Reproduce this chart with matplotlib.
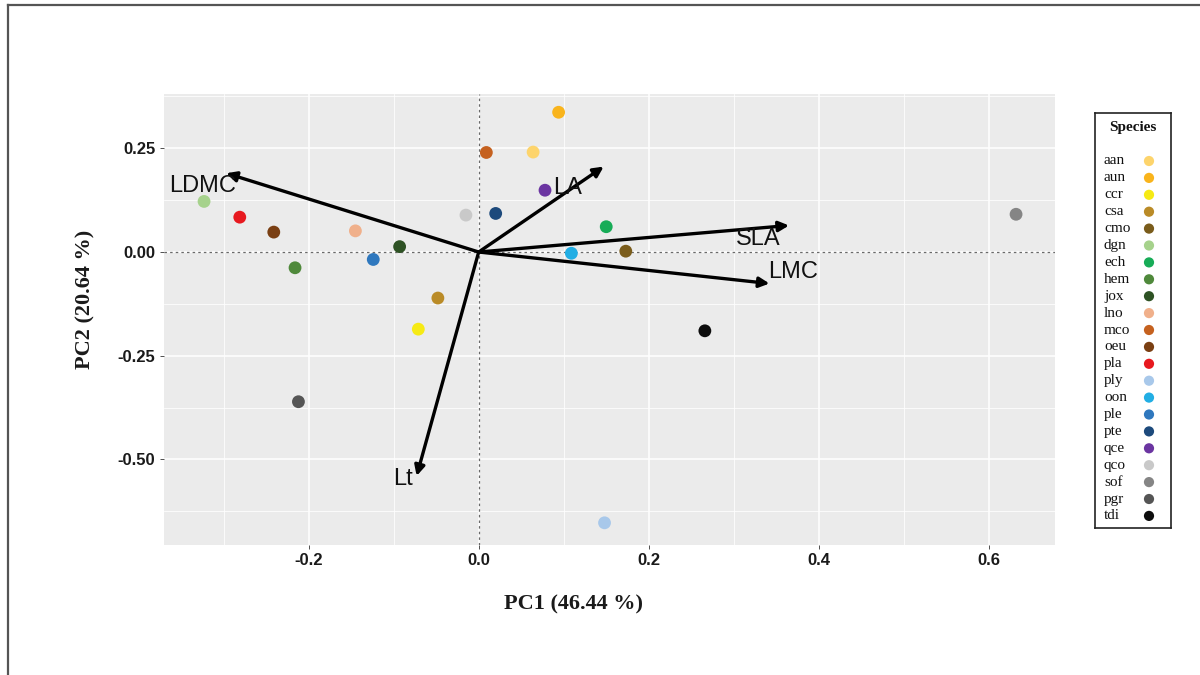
import matplotlib
matplotlib.use("Agg")
import matplotlib.pyplot as plt
from matplotlib.lines import Line2D
from matplotlib.ticker import MultipleLocator, FixedLocator

# PCA scores of species means
species = ["aan", "aun", "ccr", "csa", "cmo", "dgn", "ech", "hem", "jox", "lno", "mco",
           "oeu", "pla", "ply", "oon", "ple", "pte", "qce", "qco", "sof", "pgr", "tdi"]
pc1 = [0.064, 0.094, -0.071, -0.048, 0.173, -0.323, 0.150, -0.216, -0.093, -0.145, 0.009,
       -0.241, -0.281, 0.148, 0.109, -0.124, 0.020, 0.078, -0.015, 0.632, -0.212, 0.266]
pc2 = [0.241, 0.337, -0.186, -0.111, 0.002, 0.122, 0.061, -0.038, 0.013, 0.051, 0.240,
       0.048, 0.084, -0.653, -0.003, -0.018, 0.093, 0.149, 0.089, 0.091, -0.361, -0.190]
colors = ["#FDD46C", "#F9B41C", "#F6EA14", "#BA8B27", "#7A5C1B", "#A6D28C", "#17AC57",
          "#4F893B", "#2E5224", "#F0B08B", "#C5611F", "#7A3F13", "#E7191F", "#A8C8EA",
          "#22AEE4", "#2F78BE", "#1D4A7C", "#6B35A1", "#C9C9C9", "#858585", "#555555",
          "#0D0D0D"]

# Trait loadings (arrow tips) and label anchors
traits = ["LDMC", "LA", "SLA", "LMC", "Lt"]
load1 = [-0.297, 0.147, 0.365, 0.342, -0.073]
load2 = [0.190, 0.206, 0.064, -0.076, -0.540]
lab1 = [-0.325, 0.104, 0.329, 0.370, -0.089]
lab2 = [0.159, 0.154, 0.031, -0.049, -0.547]

x_ticks = [-0.2, 0.0, 0.2, 0.4, 0.6]
y_ticks = [-0.50, -0.25, 0.00, 0.25]

W, H = 1200, 675
fig = plt.figure(figsize=(W / 100, H / 100), dpi=100)
fig.patch.set_facecolor("white")

# outer frame
fig.add_artist(Line2D([8 / W, 8 / W], [0, 1 - 5 / H], color="#555555", lw=1.6,
                      transform=fig.transFigure))
fig.add_artist(Line2D([8 / W, 1], [1 - 5 / H, 1 - 5 / H], color="#555555", lw=1.6,
                      transform=fig.transFigure))

x0, x1, y0, y1 = 163.5, 1055, 94.3, 545
ax = fig.add_axes([x0 / W, 1 - y1 / H, (x1 - x0) / W, (y1 - y0) / H])
ax.set_facecolor("#EBEBEB")
for s in ax.spines.values():
    s.set_visible(False)

ax.set_xlim(-0.3707, 0.6778)
ax.set_ylim(-0.7065, 0.3803)
ax.xaxis.set_major_locator(FixedLocator(x_ticks))
ax.yaxis.set_major_locator(FixedLocator(y_ticks))
ax.xaxis.set_minor_locator(MultipleLocator(0.1))
ax.yaxis.set_minor_locator(FixedLocator([-0.625, -0.375, -0.125, 0.125, 0.375]))
ax.set_xticklabels([f"{v:.1f}" for v in x_ticks])
ax.set_yticklabels([f"{v:.2f}" for v in y_ticks])
ax.grid(which="major", color="white", lw=1.1)
ax.grid(which="minor", color="white", lw=0.55)
ax.set_axisbelow(True)
ax.tick_params(which="major", length=3, width=0.6, color="#333333", pad=3,
               labelsize=12, labelcolor="#1a1a1a")
ax.tick_params(which="minor", length=0)
for t in ax.get_xticklabels() + ax.get_yticklabels():
    t.set_fontfamily("Liberation Sans")
    t.set_fontweight("bold")

ax.axhline(0, color="#6a6a6a", lw=0.9, ls=(0, (2, 2.5)), zorder=1)
ax.axvline(0, color="#6a6a6a", lw=0.9, ls=(0, (2, 2.5)), zorder=1)

ax.scatter(pc1, pc2, s=85, c=colors, zorder=3, linewidths=0)

for name, tx, ty, lx, ly in zip(traits, load1, load2, lab1, lab2):
    ax.annotate("", xy=(tx, ty), xytext=(0, 0),
                arrowprops=dict(arrowstyle="-|>", color="black", lw=2.4,
                                mutation_scale=15, shrinkA=0, shrinkB=0),
                zorder=4)
    ax.text(lx, ly, name, fontsize=17, family="Liberation Sans", ha="center",
            va="center", color="#111111", zorder=5)

ax.set_xlabel("PC1 (46.44 %)", fontsize=16, family="Liberation Serif",
              fontweight="bold", color="#1a1a1a")
ax.set_ylabel("PC2 (20.64 %)", fontsize=16, family="Liberation Serif",
              fontweight="bold", color="#1a1a1a")
ax.xaxis.set_label_coords((573 - x0) / (x1 - x0), (y1 - 604) / (y1 - y0))
ax.xaxis.label.set_va("center")
ax.yaxis.set_label_coords((85 - x0) / (x1 - x0), (y1 - 299) / (y1 - y0))
ax.yaxis.label.set_va("center")

# species key: boxed panel, names on the left, colour dots on the right
lx0, lx1, ly0, ly1 = 1095, 1171, 113, 528
lax = fig.add_axes([lx0 / W, 1 - ly1 / H, (lx1 - lx0) / W, (ly1 - ly0) / H])
lax.set_xlim(0, lx1 - lx0)
lax.set_ylim(ly1 - ly0, 0)
lax.set_xticks([])
lax.set_yticks([])
for s in lax.spines.values():
    s.set_linewidth(1.2)
    s.set_color("#222222")
lax.text((lx1 - lx0) / 2, 14.5, "Species", ha="center", va="center",
         family="Liberation Serif", fontweight="bold", fontsize=11, color="#111111")
row0, pitch = 48, 16.9
rows = [row0 + i * pitch for i in range(len(species))]
for name, yy in zip(species, rows):
    lax.text(9, yy, name, ha="left", va="center", family="Liberation Serif",
             fontsize=11, color="#111111")
lax.scatter([54] * len(species), rows, s=54, c=colors, linewidths=0)

fig.savefig("out.png", dpi=100, facecolor="white")
